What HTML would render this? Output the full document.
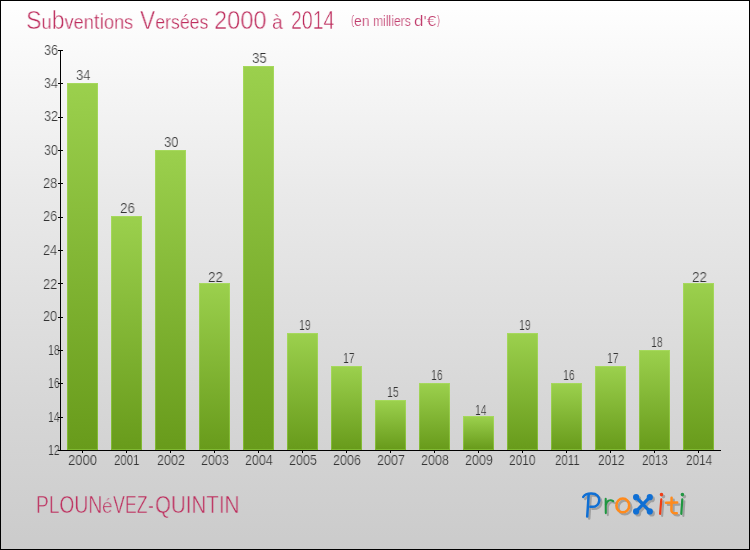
<!DOCTYPE html>
<html><head><meta charset="utf-8"><title>Subventions</title>
<style>
html,body{margin:0;padding:0;}
body{width:750px;height:550px;overflow:hidden;font-family:"Liberation Sans",sans-serif;}
#c{position:relative;width:748px;height:548px;border:1px solid #000;overflow:hidden;
 background:linear-gradient(to bottom,#ffffff -1px,#f4f4f4 99px,#e9e9e9 199px,#e0e0e0 299px,#d7d7d7 399px,#cfcfcf 499px,#cbcbcb 549px);}
.t{position:absolute;white-space:nowrap;line-height:1;transform-origin:0 0;will-change:transform;}
.bar{position:absolute;width:31px;box-sizing:border-box;border:1px solid;border-image:linear-gradient(to bottom,#a6d95d,#80b832) 1;
 background:linear-gradient(to bottom,#9bd04d 0%,#689b1b 100%);}
.ax{position:absolute;background:#000;}
</style></head><body><div id="c">

<div class="t" style="left:24.97px;top:7.06px;font-size:25.8px;color:#bd2c5c;-webkit-text-stroke:0.55px #fdfdfd;transform:scaleX(0.9015);">S<span style="font-size:20.1px;-webkit-text-stroke-width:0.3px">u</span>b<span style="font-size:20.1px;-webkit-text-stroke-width:0.3px">ven</span><span style="font-size:22.7px;-webkit-text-stroke-width:0.42px">ti</span><span style="font-size:20.1px;-webkit-text-stroke-width:0.3px">ons</span></div>
<div class="t" style="left:139.10px;top:7.06px;font-size:25.8px;color:#bd2c5c;-webkit-text-stroke:0.55px #fdfdfd;transform:scaleX(0.8816);">V<span style="font-size:20.1px;-webkit-text-stroke-width:0.3px">ersées</span></div>
<div class="t" style="left:213.19px;top:7.06px;font-size:25.8px;color:#bd2c5c;-webkit-text-stroke:0.55px #fdfdfd;transform:scaleX(0.9164);">2000</div>
<div class="t" style="left:271.20px;top:7.06px;font-size:25.8px;color:#bd2c5c;-webkit-text-stroke:0.55px #fdfdfd;transform:scaleX(0.9552);"><span style="font-size:20.1px;-webkit-text-stroke-width:0.3px">à</span></div>
<div class="t" style="left:289.89px;top:7.06px;font-size:25.8px;color:#bd2c5c;-webkit-text-stroke:0.55px #fdfdfd;transform:scaleX(0.7562);">2014</div>
<div class="t" style="left:352.97px;top:12.78px;font-size:14.2px;color:#c03c6c;-webkit-text-stroke:0.2px #fdfdfd;transform:scaleX(0.9757);">en</div>
<div class="t" style="left:371.64px;top:12.78px;font-size:14.2px;color:#c03c6c;-webkit-text-stroke:0.2px #fdfdfd;transform:scaleX(0.8566);">milliers</div>
<div class="t" style="left:412.97px;top:12.78px;font-size:14.2px;color:#c03c6c;-webkit-text-stroke:0.2px #fdfdfd;transform:scaleX(1.1991);">d'€</div>
<div class="t" style="left:349.57px;top:12.00px;font-size:13px;color:#c03c6c;-webkit-text-stroke:0.2px #fdfdfd;transform:scaleX(0.7111);">(</div>
<div class="t" style="left:435.80px;top:12.00px;font-size:13px;color:#c03c6c;-webkit-text-stroke:0.2px #fdfdfd;transform:scaleX(0.7111);">)</div>
<div class="t" style="left:35.10px;top:492.35px;font-size:24.4px;color:#bd2c5c;-webkit-text-stroke:0.5px #cfcfcf;transform:scaleX(0.7871);">PLOUN</div>
<div class="t" style="left:101.41px;top:496.49px;font-size:19.5px;color:#bd2c5c;-webkit-text-stroke:0.5px #cecece;transform:scaleX(0.9634);">é</div>
<div class="t" style="left:112.30px;top:492.35px;font-size:24.4px;color:#bd2c5c;-webkit-text-stroke:0.5px #cfcfcf;transform:scaleX(0.7292);">VEZ</div>
<div class="t" style="left:147.25px;top:492.35px;font-size:24.4px;color:#bd2c5c;-webkit-text-stroke:0.5px #cfcfcf;transform:scaleX(0.7252);">-</div>
<div class="t" style="left:154.14px;top:492.35px;font-size:24.4px;color:#bd2c5c;-webkit-text-stroke:0.5px #cfcfcf;transform:scaleX(0.8408);">QUINTIN</div>
<div class="t" style="left:42.60px;top:42.15px;font-size:14px;color:#333333;-webkit-text-stroke:0.22px #f9f9f9;transform:scaleX(0.9061);">36</div>
<div class="t" style="left:42.61px;top:75.15px;font-size:14px;color:#333333;-webkit-text-stroke:0.22px #f6f6f6;transform:scaleX(0.8927);">34</div>
<div class="t" style="left:42.60px;top:108.15px;font-size:14px;color:#333333;-webkit-text-stroke:0.22px #f2f2f2;transform:scaleX(0.9061);">32</div>
<div class="t" style="left:42.61px;top:142.15px;font-size:14px;color:#333333;-webkit-text-stroke:0.22px #eeeeee;transform:scaleX(0.8927);">30</div>
<div class="t" style="left:42.40px;top:175.15px;font-size:14px;color:#333333;-webkit-text-stroke:0.22px #ebebeb;transform:scaleX(0.9199);">28</div>
<div class="t" style="left:42.40px;top:208.15px;font-size:14px;color:#333333;-webkit-text-stroke:0.22px #e8e8e8;transform:scaleX(0.9199);">26</div>
<div class="t" style="left:42.41px;top:242.15px;font-size:14px;color:#333333;-webkit-text-stroke:0.22px #e4e4e4;transform:scaleX(0.9061);">24</div>
<div class="t" style="left:42.40px;top:276.15px;font-size:14px;color:#333333;-webkit-text-stroke:0.22px #e1e1e1;transform:scaleX(0.9199);">22</div>
<div class="t" style="left:42.41px;top:308.15px;font-size:14px;color:#333333;-webkit-text-stroke:0.22px #dfdfdf;transform:scaleX(0.9061);">20</div>
<div class="t" style="left:46.54px;top:342.15px;font-size:14px;color:#333333;-webkit-text-stroke:0.22px #dbdbdb;transform:scaleX(0.7502);">18</div>
<div class="t" style="left:46.54px;top:375.15px;font-size:14px;color:#333333;-webkit-text-stroke:0.22px #d9d9d9;transform:scaleX(0.7502);">16</div>
<div class="t" style="left:46.55px;top:409.15px;font-size:14px;color:#333333;-webkit-text-stroke:0.22px #d6d6d6;transform:scaleX(0.7387);">14</div>
<div class="t" style="left:46.54px;top:442.15px;font-size:14px;color:#333333;-webkit-text-stroke:0.22px #d3d3d3;transform:scaleX(0.7502);">12</div>
<div class="t" style="left:74.89px;top:67.15px;font-size:14px;color:#333333;-webkit-text-stroke:0.22px #f7f7f7;transform:scaleX(0.9333);">34</div>
<div class="t" style="left:66.79px;top:452.15px;font-size:14px;color:#333333;-webkit-text-stroke:0.22px #d2d2d2;transform:scaleX(0.9356);">2000</div>
<div class="t" style="left:118.67px;top:200.15px;font-size:14px;color:#333333;-webkit-text-stroke:0.22px #e8e8e8;transform:scaleX(0.9618);">26</div>
<div class="t" style="left:112.96px;top:452.15px;font-size:14px;color:#333333;-webkit-text-stroke:0.22px #d2d2d2;transform:scaleX(0.8188);">2001</div>
<div class="t" style="left:162.89px;top:134.15px;font-size:14px;color:#333333;-webkit-text-stroke:0.22px #efefef;transform:scaleX(0.9333);">30</div>
<div class="t" style="left:156.31px;top:452.15px;font-size:14px;color:#333333;-webkit-text-stroke:0.22px #d2d2d2;transform:scaleX(0.8990);">2002</div>
<div class="t" style="left:206.67px;top:269.15px;font-size:14px;color:#333333;-webkit-text-stroke:0.22px #e2e2e2;transform:scaleX(0.9618);">22</div>
<div class="t" style="left:200.31px;top:452.15px;font-size:14px;color:#333333;-webkit-text-stroke:0.22px #d2d2d2;transform:scaleX(0.8990);">2003</div>
<div class="t" style="left:250.89px;top:50.15px;font-size:14px;color:#333333;-webkit-text-stroke:0.22px #f9f9f9;transform:scaleX(0.9473);">35</div>
<div class="t" style="left:244.31px;top:452.15px;font-size:14px;color:#333333;-webkit-text-stroke:0.22px #d2d2d2;transform:scaleX(0.8925);">2004</div>
<div class="t" style="left:297.74px;top:317.15px;font-size:14px;color:#333333;-webkit-text-stroke:0.22px #dedede;transform:scaleX(0.7502);">19</div>
<div class="t" style="left:288.31px;top:452.15px;font-size:14px;color:#333333;-webkit-text-stroke:0.22px #d2d2d2;transform:scaleX(0.8990);">2005</div>
<div class="t" style="left:341.74px;top:350.15px;font-size:14px;color:#333333;-webkit-text-stroke:0.22px #dbdbdb;transform:scaleX(0.7502);">17</div>
<div class="t" style="left:332.31px;top:452.15px;font-size:14px;color:#333333;-webkit-text-stroke:0.22px #d2d2d2;transform:scaleX(0.8990);">2006</div>
<div class="t" style="left:385.74px;top:384.15px;font-size:14px;color:#333333;-webkit-text-stroke:0.22px #d8d8d8;transform:scaleX(0.7502);">15</div>
<div class="t" style="left:376.31px;top:452.15px;font-size:14px;color:#333333;-webkit-text-stroke:0.22px #d2d2d2;transform:scaleX(0.8990);">2007</div>
<div class="t" style="left:429.74px;top:367.15px;font-size:14px;color:#333333;-webkit-text-stroke:0.22px #d9d9d9;transform:scaleX(0.7502);">16</div>
<div class="t" style="left:420.31px;top:452.15px;font-size:14px;color:#333333;-webkit-text-stroke:0.22px #d2d2d2;transform:scaleX(0.8990);">2008</div>
<div class="t" style="left:473.75px;top:402.15px;font-size:14px;color:#333333;-webkit-text-stroke:0.22px #d6d6d6;transform:scaleX(0.7387);">14</div>
<div class="t" style="left:464.31px;top:452.15px;font-size:14px;color:#333333;-webkit-text-stroke:0.22px #d2d2d2;transform:scaleX(0.8990);">2009</div>
<div class="t" style="left:517.74px;top:317.15px;font-size:14px;color:#333333;-webkit-text-stroke:0.22px #dedede;transform:scaleX(0.7502);">19</div>
<div class="t" style="left:508.34px;top:452.15px;font-size:14px;color:#333333;-webkit-text-stroke:0.22px #d2d2d2;transform:scaleX(0.8527);">2010</div>
<div class="t" style="left:561.74px;top:367.15px;font-size:14px;color:#333333;-webkit-text-stroke:0.22px #d9d9d9;transform:scaleX(0.7502);">16</div>
<div class="t" style="left:553.76px;top:452.15px;font-size:14px;color:#333333;-webkit-text-stroke:0.22px #d2d2d2;transform:scaleX(0.8206);">2011</div>
<div class="t" style="left:605.74px;top:350.15px;font-size:14px;color:#333333;-webkit-text-stroke:0.22px #dbdbdb;transform:scaleX(0.7502);">17</div>
<div class="t" style="left:597.14px;top:452.15px;font-size:14px;color:#333333;-webkit-text-stroke:0.22px #d2d2d2;transform:scaleX(0.8522);">2012</div>
<div class="t" style="left:649.74px;top:334.15px;font-size:14px;color:#333333;-webkit-text-stroke:0.22px #dcdcdc;transform:scaleX(0.7502);">18</div>
<div class="t" style="left:641.15px;top:452.15px;font-size:14px;color:#333333;-webkit-text-stroke:0.22px #d2d2d2;transform:scaleX(0.8322);">2013</div>
<div class="t" style="left:690.67px;top:269.15px;font-size:14px;color:#333333;-webkit-text-stroke:0.22px #e2e2e2;transform:scaleX(0.9618);">22</div>
<div class="t" style="left:685.25px;top:452.15px;font-size:14px;color:#333333;-webkit-text-stroke:0.22px #d2d2d2;transform:scaleX(0.8427);">2014</div>
<div class="ax" style="left:59px;top:49px;width:1px;height:401px;"></div>
<div class="ax" style="left:59px;top:449px;width:661px;height:1px;"></div>
<div class="ax" style="left:57px;top:49px;width:5px;height:1px;"></div>
<div class="ax" style="left:57px;top:82px;width:5px;height:1px;"></div>
<div class="ax" style="left:57px;top:116px;width:5px;height:1px;"></div>
<div class="ax" style="left:57px;top:149px;width:5px;height:1px;"></div>
<div class="ax" style="left:57px;top:182px;width:5px;height:1px;"></div>
<div class="ax" style="left:57px;top:216px;width:5px;height:1px;"></div>
<div class="ax" style="left:57px;top:249px;width:5px;height:1px;"></div>
<div class="ax" style="left:57px;top:282px;width:5px;height:1px;"></div>
<div class="ax" style="left:57px;top:316px;width:5px;height:1px;"></div>
<div class="ax" style="left:57px;top:349px;width:5px;height:1px;"></div>
<div class="ax" style="left:57px;top:382px;width:5px;height:1px;"></div>
<div class="ax" style="left:57px;top:416px;width:5px;height:1px;"></div>
<div class="ax" style="left:57px;top:449px;width:5px;height:1px;"></div>
<div class="bar" style="left:66px;top:82px;height:367px;"></div>
<div class="ax" style="left:81px;top:450px;width:1px;height:2px;"></div>
<div class="bar" style="left:110px;top:215px;height:234px;"></div>
<div class="ax" style="left:125px;top:450px;width:1px;height:2px;"></div>
<div class="bar" style="left:154px;top:149px;height:300px;"></div>
<div class="ax" style="left:169px;top:450px;width:1px;height:2px;"></div>
<div class="bar" style="left:198px;top:282px;height:167px;"></div>
<div class="ax" style="left:213px;top:450px;width:1px;height:2px;"></div>
<div class="bar" style="left:242px;top:65px;height:384px;"></div>
<div class="ax" style="left:257px;top:450px;width:1px;height:2px;"></div>
<div class="bar" style="left:286px;top:332px;height:117px;"></div>
<div class="ax" style="left:301px;top:450px;width:1px;height:2px;"></div>
<div class="bar" style="left:330px;top:365px;height:84px;"></div>
<div class="ax" style="left:345px;top:450px;width:1px;height:2px;"></div>
<div class="bar" style="left:374px;top:399px;height:50px;"></div>
<div class="ax" style="left:389px;top:450px;width:1px;height:2px;"></div>
<div class="bar" style="left:418px;top:382px;height:67px;"></div>
<div class="ax" style="left:433px;top:450px;width:1px;height:2px;"></div>
<div class="bar" style="left:462px;top:415px;height:34px;"></div>
<div class="ax" style="left:477px;top:450px;width:1px;height:2px;"></div>
<div class="bar" style="left:506px;top:332px;height:117px;"></div>
<div class="ax" style="left:521px;top:450px;width:1px;height:2px;"></div>
<div class="bar" style="left:550px;top:382px;height:67px;"></div>
<div class="ax" style="left:565px;top:450px;width:1px;height:2px;"></div>
<div class="bar" style="left:594px;top:365px;height:84px;"></div>
<div class="ax" style="left:609px;top:450px;width:1px;height:2px;"></div>
<div class="bar" style="left:638px;top:349px;height:100px;"></div>
<div class="ax" style="left:653px;top:450px;width:1px;height:2px;"></div>
<div class="bar" style="left:682px;top:282px;height:167px;"></div>
<div class="ax" style="left:697px;top:450px;width:1px;height:2px;"></div>
<svg id="logo" style="position:absolute;left:569px;top:479px;overflow:visible;" width="130" height="50" viewBox="0 0 130 50" fill="none" stroke-linecap="round" stroke-linejoin="round">
<g style="filter:drop-shadow(2px 2px 0.5px rgba(80,80,80,0.36));">
<g stroke="#0f6fd4" stroke-width="2.5">
<path d="M18.7,14.2 C18.2,21 17.8,29 17.2,36.6"/>
<path d="M13.3,16.9 C14.8,14.6 17.2,13.7 21,13.6 C26.8,13.4 29.6,16.8 29.2,20.8 C28.7,25.2 25.2,27.2 20.4,26.8"/>
</g>
<g stroke="#1f9640" stroke-width="2.1">
<path d="M35.7,18.9 L35.8,33.1"/>
<path d="M35.9,24.4 C36.8,20.8 39.9,19 43.2,21.1"/>
</g>
<ellipse cx="52.8" cy="25.4" rx="6.4" ry="6.9" stroke="#ff8a1c" stroke-width="2.6"/>
<g stroke="#0f6fd4" stroke-width="3.3" fill="#0f6fd4">
<path d="M66.1,17.2 L79.8,31.4 M79.8,17.2 L66.1,31.4"/>
<circle cx="66.1" cy="17.2" r="1.45"/><circle cx="79.8" cy="17.2" r="1.45"/><circle cx="66.1" cy="31.4" r="1.45"/><circle cx="79.8" cy="31.4" r="1.45"/>
</g>
<g stroke="#f03c14" stroke-width="2.2">
<circle cx="91.5" cy="14.6" r="0.7" fill="#f03c14"/>
<path d="M91.3,19.3 L90.1,33.8"/>
</g>
<g stroke="#ff8a1c" stroke-width="2.5">
<path d="M101.6,17.8 L101.4,30.2 Q101.4,33.8 106.8,33.2"/>
<path d="M96.0,22.8 L107.2,22.6"/>
</g>
<g stroke="#1f9640" stroke-width="2.2">
<circle cx="112.4" cy="14.6" r="0.7" fill="#1f9640"/>
<path d="M112.3,19.3 L111.3,33.8"/>
</g>
</g>
</svg>

</div></body></html>
